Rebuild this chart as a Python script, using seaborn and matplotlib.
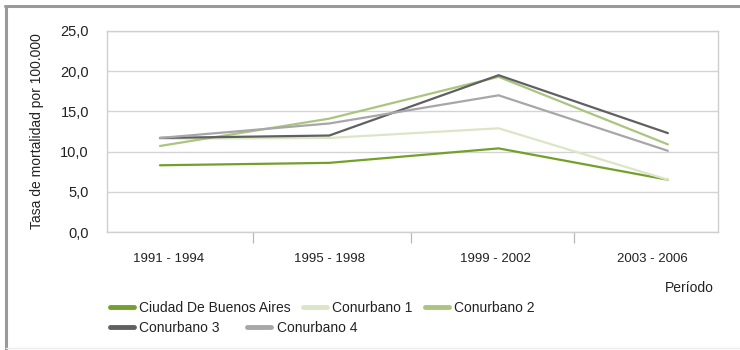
import matplotlib
matplotlib.use("Agg")
import matplotlib.pyplot as plt
from matplotlib.lines import Line2D
from matplotlib.ticker import FixedLocator, FuncFormatter
import seaborn as sns
import pandas as pd

# Mortality rate per 100,000 inhabitants by period and region
periodos = ["1991 - 1994", "1995 - 1998", "1999 - 2002", "2003 - 2006"]
ciudad_bsas = [8.3, 8.6, 10.4, 6.5]
conurbano_1 = [11.6, 11.7, 12.9, 6.5]
conurbano_2 = [10.7, 14.1, 19.3, 10.9]
conurbano_3 = [11.7, 12.0, 19.5, 12.3]
conurbano_4 = [11.7, 13.5, 17.0, 10.1]

series = {
    "Ciudad De Buenos Aires": ciudad_bsas,
    "Conurbano 1": conurbano_1,
    "Conurbano 2": conurbano_2,
    "Conurbano 3": conurbano_3,
    "Conurbano 4": conurbano_4,
}
colores = ["#72a02b", "#dbe6c6", "#a9c57e", "#606062", "#a7a7a9"]

df = pd.DataFrame(
    [(p, region, v) for region, vals in series.items() for p, v in zip(periodos, vals)],
    columns=["periodo", "region", "tasa"],
)

sns.set_theme(style="white")
plt.rcParams["font.family"] = ["Liberation Sans Narrow", "Liberation Sans", "DejaVu Sans"]
txt = "#222222"

fig = plt.figure(figsize=(7.4, 3.5), dpi=100)
ax = fig.add_axes([107 / 740, 1 - 232 / 350, (718 - 107) / 740, (232 - 31) / 350])

sns.lineplot(data=df, x="periodo", y="tasa", hue="region", palette=colores,
             sort=False, linewidth=1.6, ax=ax, legend=False)

ax.set_xlim(-0.313, 3.296)
ax.set_ylim(0, 25)
ax.set_yticks([0, 5, 10, 15, 20, 25])
ax.yaxis.set_major_formatter(FuncFormatter(lambda v, _: f"{v:.1f}".replace(".", ",")))
ax.yaxis.grid(True, color="#d4d4d4", linewidth=1.0)
ax.xaxis.grid(False)

# Period labels sit at the category slots; separators between them
ax.set_xticks([0.05, 1.0, 1.98, 2.91])
ax.set_xticklabels(periodos)
ax.xaxis.set_minor_locator(FixedLocator([0.55, 1.48, 2.445]))
ax.tick_params(axis="x", which="major", length=0, pad=15, labelsize=9.5, labelcolor=txt)
ax.tick_params(axis="x", which="minor", bottom=True, length=8, width=0.9, color="#b8b8b8")
ax.tick_params(axis="y", length=0, pad=13, labelsize=10.5, labelcolor=txt)

for s in ax.spines.values():
    s.set_color("#cfcfcf")
    s.set_linewidth(1.0)

ax.set_xlabel("")
ax.set_ylabel("Tasa de mortalidad por 100.000", fontsize=10, color=txt, labelpad=12)
fig.text(689 / 740, 1 - 288 / 350, "Período", fontsize=10, color=txt, ha="center", va="center")

# Legend in two rows, built from the drawn lines
lines = ax.get_lines()[:5]
labels = list(series.keys())
hl = [Line2D([], [], color=l.get_color(), linewidth=3.5) for l in lines]
common = dict(frameon=False, fontsize=10, handlelength=1.7, handletextpad=0.4,
              labelcolor=txt, borderaxespad=0, borderpad=0)
fig.legend(hl[:3], labels[:3], loc="center left", bbox_to_anchor=(110 / 740, 1 - 308 / 350),
           ncol=3, columnspacing=0.9, **common)
fig.legend(hl[3:], labels[3:], loc="center left", bbox_to_anchor=(110 / 740, 1 - 328 / 350),
           ncol=2, columnspacing=2.0, **common)

# Outer frame
fig.add_artist(Line2D([5 / 740, 1], [1 - 6 / 350, 1 - 6 / 350], color="#9a9a9a", linewidth=2.2,
                      transform=fig.transFigure))
fig.add_artist(Line2D([6 / 740, 6 / 740], [1 - 6 / 350, 0], color="#9a9a9a", linewidth=2.2,
                      transform=fig.transFigure))
fig.add_artist(Line2D([6 / 740, 1], [1 - 348 / 350, 1 - 348 / 350], color="#eeeeee", linewidth=1.0,
                      transform=fig.transFigure))

fig.savefig("out.png", dpi=100)
